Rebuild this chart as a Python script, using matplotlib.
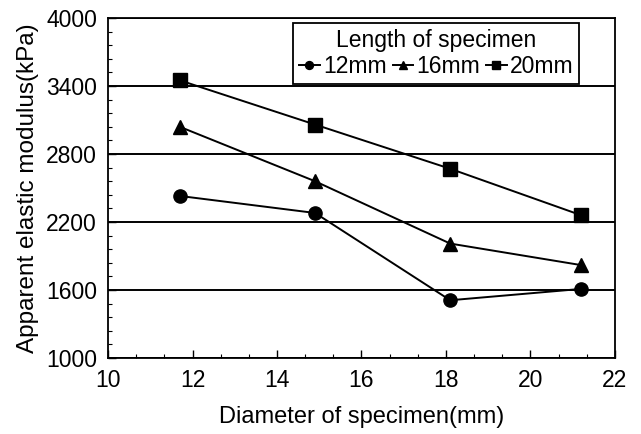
import numpy as np
import matplotlib
matplotlib.use("Agg")
import matplotlib.pyplot as plt
from matplotlib.ticker import AutoMinorLocator

plt.rcParams['font.family'] = ['Liberation Sans', 'DejaVu Sans']

# diameter of specimen (mm)
diameter = [11.7, 14.9, 18.1, 21.2]
# apparent elastic modulus (kPa) for each specimen length
mod_12mm = [2430, 2280, 1510, 1610]
mod_16mm = [3040, 2560, 2010, 1820]
mod_20mm = [3450, 3060, 2670, 2260]
labels = ['12mm', '16mm', '20mm']
markers = ['o', '^', 's']

fig = plt.figure(figsize=(6.41, 4.34), dpi=100)
ax = fig.add_axes([0.1685, 0.175, 0.7909, 0.7835])

for ys, lab, mk in zip([mod_12mm, mod_16mm, mod_20mm], labels, markers):
    ax.plot(diameter, ys, color='black', lw=1.4, marker=mk, ms=9.5, label=lab)

ax.set_xlim(10, 22)
ax.set_ylim(1000, 4000)
ax.set_xticks(np.arange(10, 23, 2))
ax.set_yticks(np.arange(1000, 4001, 600))
ax.xaxis.set_minor_locator(AutoMinorLocator(3))
ax.yaxis.set_minor_locator(AutoMinorLocator(5))
ax.tick_params(which='both', direction='in', top=False, right=False)
ax.tick_params(which='major', length=6, width=1, labelsize=16.5, pad=8)
ax.tick_params(which='minor', length=3, width=0.8)
ax.grid(axis='y', which='major', color='black', lw=1.4)
for s in ax.spines.values():
    s.set_linewidth(1.3)

ax.set_xlabel('Diameter of specimen(mm)', fontsize=17, labelpad=10)
ax.set_ylabel('Apparent elastic modulus(kPa)', fontsize=17.5, labelpad=5)

leg = ax.legend(title='Length of specimen', ncol=3, loc='upper right',
                bbox_to_anchor=(0.93, 0.985), fontsize=16.5, title_fontsize=16.5,
                handlelength=0.9, handletextpad=0.15, columnspacing=0.25,
                markerscale=0.6, frameon=True, fancybox=False,
                borderpad=0.25, labelspacing=0.15, borderaxespad=0)
leg.get_frame().set_edgecolor('black')
leg.get_frame().set_linewidth(1.3)
leg.get_frame().set_alpha(1)

fig.savefig('out.png', dpi=100)
